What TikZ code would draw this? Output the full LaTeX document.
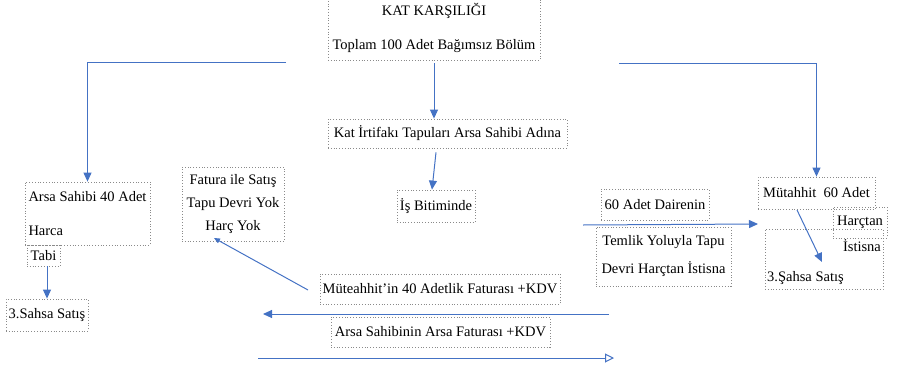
\documentclass[tikz,border=0pt]{standalone}
\usepackage{fontspec}
\setmainfont{Liberation Serif}
\usetikzlibrary{arrows.meta,calc}
\definecolor{lineblue}{HTML}{4472C4}
\definecolor{boxgray}{HTML}{8A8A8A}
\newcommand{\fs}{\fontsize{14.5}{16.5}\selectfont}
\tikzset{
  box/.style={draw=boxgray, dotted, line width=0.8pt, inner sep=0pt, align=center, font=\fs},
  txt/.style={inner sep=0pt, font=\fs},
  arr/.style={draw=lineblue, line width=1pt, -{Triangle[length=9pt,width=8pt]}},
  ln/.style={draw=lineblue, line width=1pt},
}
\begin{document}
\begin{tikzpicture}[x=1pt,y=-1pt]
\useasboundingbox (0,0) rectangle (898,370);
% boxes
\node[box, minimum width=212pt, minimum height=64pt] (kat) at (434,28) {KAT KARŞILIĞI\\[17.5pt]Toplam 100 Adet Bağımsız Bölüm};
\node[box, minimum width=239pt, minimum height=29pt] (irt) at (447.5,133.5) {Kat İrtifakı Tapuları Arsa Sahibi Adına};
\node[box, minimum width=78pt, minimum height=32pt] (is) at (436,206) {İş Bitiminde};
\node[box, minimum width=125pt, minimum height=63pt, align=left] (arsa40) at (87.5,213.5) {Arsa Sahibi 40 Adet\\[18pt]Harca};
\node[box, minimum width=33pt, minimum height=21pt] (tabi) at (43.5,255.5) {Tabi};
\node[box, minimum width=82pt, minimum height=32pt] (sahsa1) at (47,315) {3.Sahsa Satış};
\node[box, minimum width=102pt, minimum height=74pt] (fatura) at (233,204) {Fatura ile Satış\\[6.5pt]Tapu Devri Yok\\[6.5pt]Harç Yok};
\node[box, minimum width=240pt, minimum height=30pt] (mut40) at (440,289) {Müteahhit'in 40 Adetlik Faturası +KDV};
\node[box, minimum width=219pt, minimum height=30pt] (arsaF) at (440.5,332) {Arsa Sahibinin Arsa Faturası +KDV};
\node[box, minimum width=108pt, minimum height=31pt] (d60) at (655,204.5) {60 Adet Dairenin};
\node[box, minimum width=135pt, minimum height=59pt] (temlik) at (663.5,256.5) {Temlik Yoluyla Tapu\\[11.5pt]Devri Harçtan İstisna};
\node[box, minimum width=117pt, minimum height=32pt] (mut60) at (816.5,193) {Mütahhit\ \ 60 Adet};
\node[box, minimum width=118pt, minimum height=60pt] (sahsa3) at (824,259) {};
\node[box, minimum width=54pt, minimum height=31pt] (harctan) at (860,222.5) {Harçtan};
\node[txt] (istisna) at (862,246) {İstisna};
\node[txt, anchor=west] (sahsa3t) at (767,278) {3.Şahsa Satış};
% free-end coordinates
\coordinate (cL) at (286,62);
\coordinate (cR) at (619,63);
\coordinate (m40s) at (308,290);
\coordinate (fatE) at (214,238);
\coordinate (lA) at (609,314);
\coordinate (lB) at (263,314);
\coordinate (bA) at (258,358);
\coordinate (bB) at (614,358);
\coordinate (dA) at (583,225);
\coordinate (dB) at (758,224);
\coordinate (m60s) at (797,210);
\coordinate (m60e) at (822,262);
% connectors
\draw[arr] ([yshift=-3pt]kat.south) -- (kat.south |- irt.north);
\draw[arr] ([yshift=-4pt]irt.south -| is.north) -- ([xshift=-4pt]is.north);
\draw[arr] (cL) -| (arsa40.north);
\draw[arr] (cR) -| (mut60.north);
\draw[arr] (tabi.south -| sahsa1.north) -- (sahsa1.north);
\draw[arr, -{Triangle[length=6pt,width=5pt]}] (m40s) -- (fatE);
\draw[arr] (lA) -- (lB);
\draw[ln, -{Triangle[open,length=9pt,width=9pt]}] (bA) -- (bB);
\draw[arr] (dA) -- (dB);
\draw[arr] (m60s) -- (m60e);
\end{tikzpicture}
\end{document}
